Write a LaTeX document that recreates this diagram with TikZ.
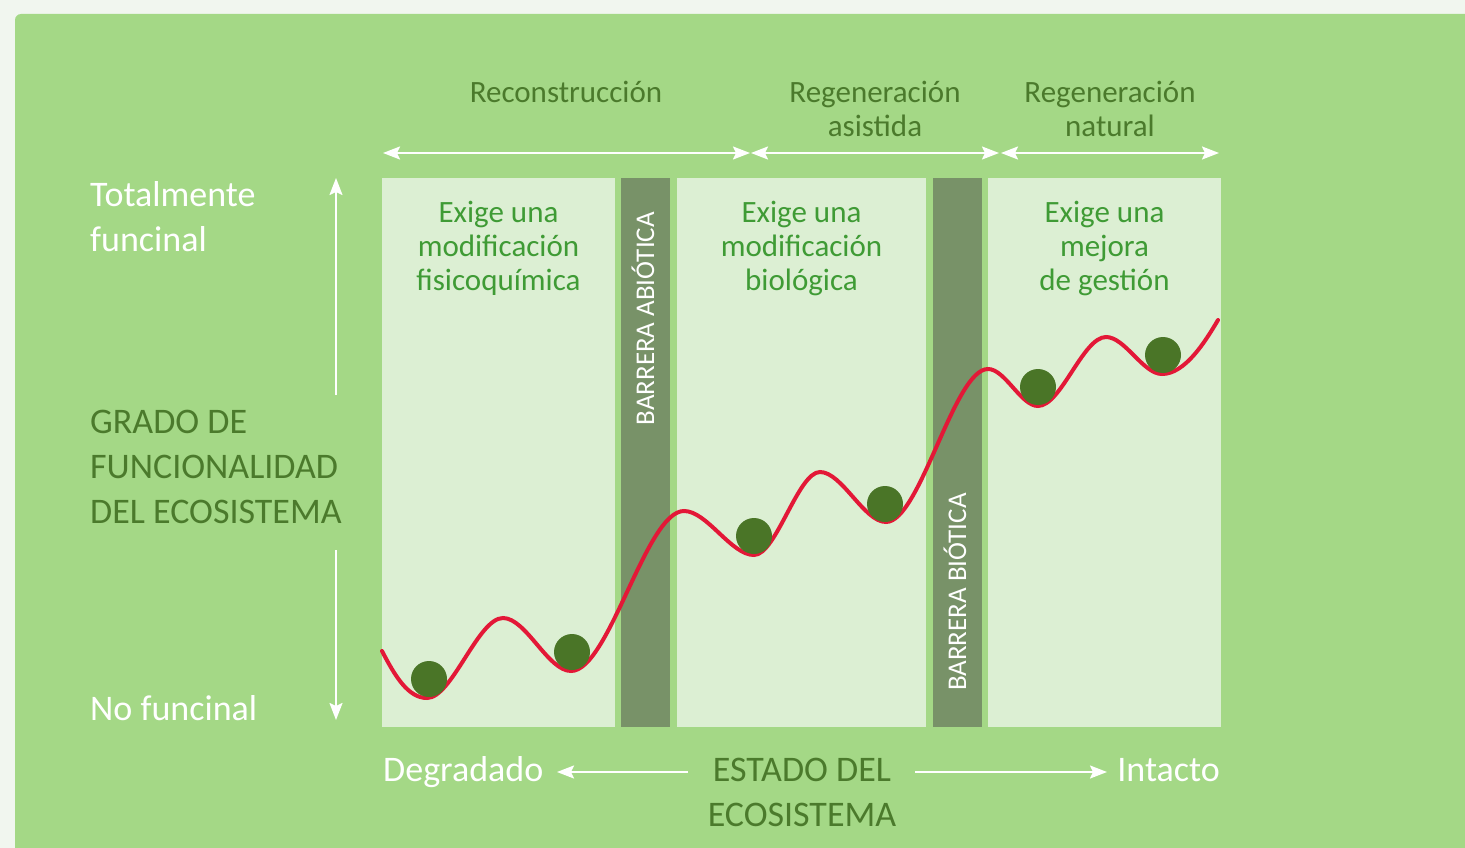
\documentclass[tikz,border=0pt]{standalone}
\usepackage{fontspec}
\setmainfont{Carlito}
\usetikzlibrary{arrows.meta}
\definecolor{pagebg}{HTML}{F1F6EF}
\definecolor{bggreen}{HTML}{A4D886}
\definecolor{panelc}{HTML}{DCEFD3}
\definecolor{barc}{HTML}{789268}
\definecolor{darkg}{HTML}{4B7A2C}
\definecolor{midg}{HTML}{3F9B35}
\definecolor{ballc}{HTML}{4A7527}
\definecolor{redc}{HTML}{E31837}
\begin{document}
\begin{tikzpicture}[x=1pt,y=-1pt,
  panel/.style={fill=panelc, draw=none, inner sep=0, outer sep=0},
  barrier/.style={fill=barc, draw=none, inner sep=0, outer sep=0},
  tipw/.tip={Stealth[length=17pt,width=13pt,inset=3pt]},
  warrow/.style={draw=white, line width=2pt},
  ball/.style={circle, fill=ballc, draw=none, minimum size=36, inner sep=0},
  bigwhite/.style={text=white, font=\fontsize{36}{45}\selectfont, inner sep=0, align=left},
  bigdark/.style={text=darkg, font=\fontsize{36}{45}\selectfont, inner sep=0},
  toplabel/.style={text=darkg, font=\fontsize{31}{34}\selectfont, inner sep=0, align=center},
  paneltext/.style={text=midg, font=\fontsize{31}{34}\selectfont, inner sep=0, align=center},
  bartext/.style={text=white, font=\fontsize{27}{32}\selectfont, inner sep=0, rotate=90}
]
\useasboundingbox (0,0) rectangle (1465,848);
\fill[pagebg] (0,0) rectangle (1465,848);
\fill[bggreen, rounded corners=6pt] (15,14) rectangle (1490,880);

% panels and barriers
\node[panel, minimum width=233, minimum height=549] (p1) at (498.5,452.5) {};
\node[barrier, minimum width=49, minimum height=549] (bar1) at (645.5,452.5) {};
\node[panel, minimum width=249, minimum height=549] (p2) at (801.5,452.5) {};
\node[barrier, minimum width=49, minimum height=549] (bar2) at (957.5,452.5) {};
\node[panel, minimum width=233, minimum height=549] (p3) at (1104.5,452.5) {};

% barrier labels
\node[bartext, anchor=base east] (t-abio) at (654,212) {BARRERA ABIÓTICA};
\node[bartext, anchor=base west] (t-bio) at (966,691) {BARRERA BIÓTICA};

% panel texts (anchor = baseline of last line)
\node[paneltext, anchor=base] (t-p1) at (498.5,290) {Exige una\\modificación\\fisicoquímica};
\node[paneltext, anchor=base] (t-p2) at (801.5,290) {Exige una\\modificación\\biológica};
\node[paneltext, anchor=base] (t-p3) at (1104.5,290) {Exige una\\mejora\\de gestión};

% top labels
\node[toplabel, anchor=base] (t-rec) at (566,103) {Reconstrucción};
\node[toplabel, anchor=base] (t-asis) at (875,137) {Regeneración\\asistida};
\node[toplabel, anchor=base] (t-nat) at (1110,137) {Regeneración\\natural};

% top arrows
\coordinate (a1s) at (383,153);
\coordinate (a1e) at (750,153);
\coordinate (a2s) at (751,153);
\coordinate (a2e) at (999,153);
\coordinate (a3s) at (1001,153);
\coordinate (a3e) at (1219,153);
\draw[warrow, tipw-tipw] (a1s) -- (a1e);
\draw[warrow, tipw-tipw] (a2s) -- (a2e);
\draw[warrow, tipw-tipw] (a3s) -- (a3e);

% left labels
\node[bigwhite, anchor=base west] (t-tot) at (90,251) {Totalmente\\funcinal};
\node[bigdark, anchor=base west, align=left] (t-grado) at (90,523) {GRADO DE\\FUNCIONALIDAD\\DEL ECOSISTEMA};
\node[bigwhite, anchor=base west] (t-no) at (90,720) {No funcinal};

% vertical arrows
\coordinate (v1s) at (336,395);
\coordinate (v1e) at (336,178);
\coordinate (v2s) at (336,550);
\coordinate (v2e) at (336,720);
\draw[warrow, -tipw] (v1s) -- (v1e);
\draw[warrow, -tipw] (v2s) -- (v2e);

% bottom labels
\node[bigwhite, anchor=base west] (t-deg) at (383,781) {Degradado};
\node[bigdark, anchor=base, align=center] (t-estado) at (802,826) {ESTADO DEL\\ECOSISTEMA};
\node[bigwhite, anchor=base east] (t-int) at (1220,781) {Intacto};
\coordinate (h1s) at (688,772);
\coordinate (h1e) at (557,772);
\coordinate (h2s) at (915,772);
\coordinate (h2e) at (1107,772);
\draw[warrow, -tipw] (h1s) -- (h1e);
\draw[warrow, -tipw] (h2s) -- (h2e);

% red curve
\draw[redc, line width=4pt, line cap=round]
  (382,651) .. controls (395,676) and (408,698) .. (427,698)
  .. controls (452,698) and (478,618) .. (503,618)
  .. controls (526,618) and (548,671) .. (571,671)
  .. controls (609,671) and (646,511) .. (684,511)
  .. controls (707,511) and (731,555) .. (754,555)
  .. controls (776,555) and (798,472) .. (820,472)
  .. controls (842,472) and (864,522) .. (886,522)
  .. controls (920,522) and (954,369) .. (988,369)
  .. controls (1005,369) and (1021,406) .. (1038,406)
  .. controls (1061,406) and (1083,337) .. (1106,337)
  .. controls (1125,337) and (1143,374) .. (1162,374)
  .. controls (1185,374) and (1205,342) .. (1218,320);

% balls
\node[ball] (b1) at (429,679) {};
\node[ball] (b2) at (572,652) {};
\node[ball] (b3) at (754,536) {};
\node[ball] (b4) at (885,504) {};
\node[ball] (b5) at (1038,387) {};
\node[ball] (b6) at (1163,355) {};
\end{tikzpicture}
\end{document}
